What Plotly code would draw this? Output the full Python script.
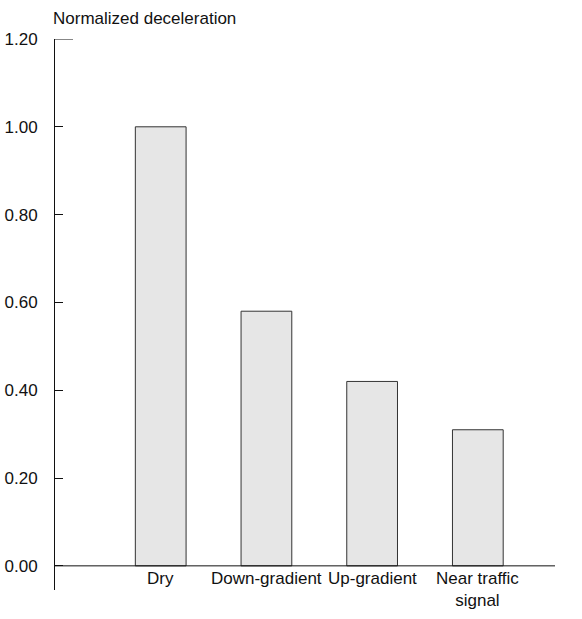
import plotly.graph_objects as go

categories = ["Dry", "Down-gradient", "Up-gradient", "Near traffic signal"]
category_labels = ["Dry", "Down-gradient", "Up-gradient", "Near traffic<br>signal"]
values = [1.00, 0.58, 0.42, 0.31]
tick_vals = [0.0, 0.2, 0.4, 0.6, 0.8, 1.0, 1.2]
tick_text = ["0.00", "0.20", "0.40", "0.60", "0.80", "1.00", "1.20"]
y_title = "Normalized deceleration"

font = "Liberation Sans, Arial, sans-serif"
fs = 17

fig = go.Figure()
fig.add_trace(go.Bar(
    x=list(range(len(categories))),
    y=values,
    width=0.48,
    marker=dict(color="#e6e6e6", line=dict(color="#333333", width=1)),
    hoverinfo="y",
))

for i, lab in enumerate(category_labels):
    fig.add_annotation(x=i, y=0, xref="x", yref="y", text=lab, showarrow=False,
                       yanchor="top", yshift=-1,
                       font=dict(family=font, size=fs, color="#111"))

fig.add_annotation(x=0, y=1, xref="paper", yref="paper", text=y_title, showarrow=False,
                   xanchor="left", yanchor="bottom", yshift=9, xshift=-4,
                   font=dict(family=font, size=fs, color="#111"))

# longer top cap tick at 1.20
fig.add_shape(type="line", xref="paper", yref="y", x0=0, x1=0.036, y0=1.2, y1=1.2,
              line=dict(color="#111", width=1))
# zero baseline
fig.add_shape(type="line", xref="paper", yref="y", x0=0, x1=1, y0=0, y1=0,
              line=dict(color="#111", width=1))

fig.update_layout(
    width=582, height=619,
    margin=dict(l=55, r=27, t=39, b=29),
    paper_bgcolor="white", plot_bgcolor="white",
    showlegend=False,
    font=dict(family=font, size=fs, color="#111"),
    xaxis=dict(range=[-1.0, 3.73], showticklabels=False, showgrid=False, zeroline=False,
               showline=False, ticks="", automargin=False),
    yaxis=dict(range=[-0.055, 1.2], tickvals=tick_vals, ticktext=tick_text, ticks="inside",
               ticklen=8, tickcolor="#111", showline=True, linecolor="#111", linewidth=1,
               showgrid=False, zeroline=False, ticklabelstandoff=13, automargin=False,
               tickfont=dict(family=font, size=fs, color="#111")),
)

fig.write_html("out.html", config={"displayModeBar": False},
               post_script="document.body.style.margin='0';")
